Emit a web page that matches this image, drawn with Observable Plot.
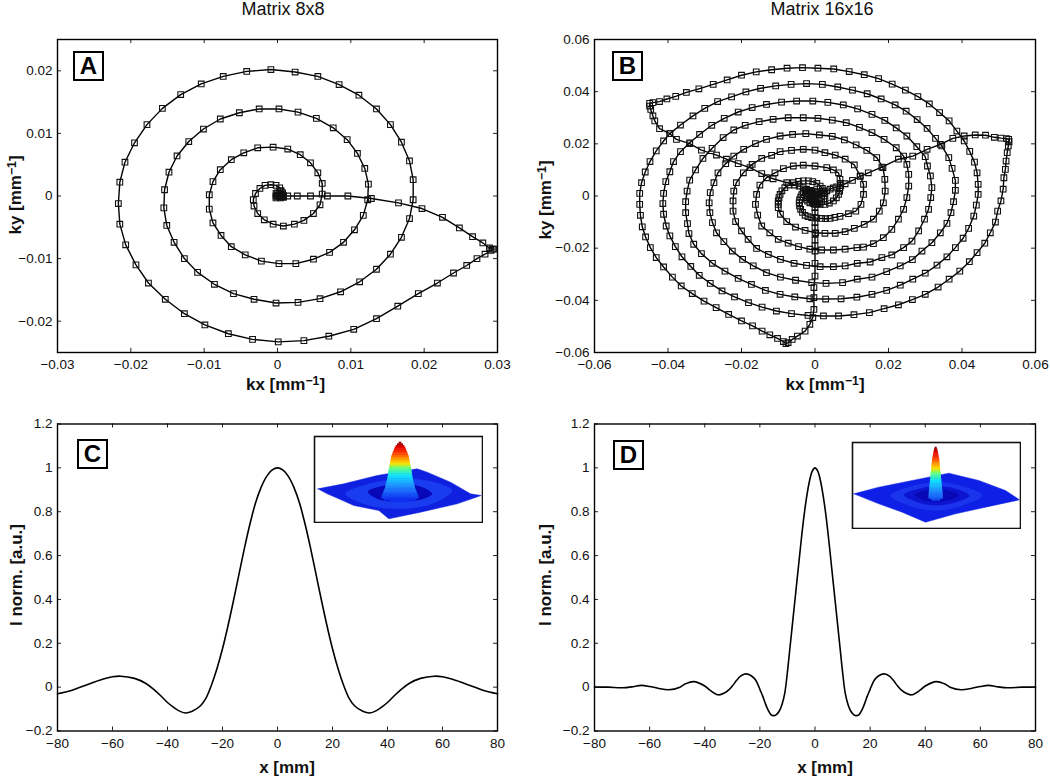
<!DOCTYPE html>
<html><head><meta charset="utf-8">
<script src="https://cdn.jsdelivr.net/npm/d3@7"></script>
<script src="https://cdn.jsdelivr.net/npm/@observablehq/plot@0.6"></script>
<style>
html,body{margin:0;padding:0;background:#fff;font-family:"Liberation Sans",Arial,sans-serif}
#page{position:relative;width:1050px;height:781px;overflow:hidden}
#page>*{position:absolute}
.title{font-size:18px;line-height:16px;color:#111;white-space:nowrap;transform:translateX(-50%)}
.tag{box-sizing:border-box;width:31px;height:30px;border:2px solid #000;background:#fff;font-weight:bold;font-size:24px;line-height:26px;text-align:center;color:#000}
.lab{font-weight:bold;font-size:17px;line-height:20px;color:#111;white-space:nowrap;transform:translate(-50%,-50%)}
.lab.v{transform:translate(-50%,-50%) rotate(-90deg)}
.lab sup{font-size:72%;line-height:0;vertical-align:baseline;position:relative;top:-.45em}
</style></head><body><div id="page"></div>
<script>
// k-space trajectories, units 1e-3 mm^-1, [kx, ky]
const spiralA=[[0,0],[.2,0],[.4,0],[.6,-.1],[.8,0],[.3,.2],[.6,.2],[-.2,0],[-.2,.4],[0,.5],[.4,.8],[.7,.5],[.8,-.2],[-.2,-.3],[.4,-.3],[.8,0],[1.4,0],[2.7,0],[4.5,0],[6.8,0],[9.6,0],[12.8,-.4],[16.5,-1.1],[19.7,-2],[22.5,-3.4],[24.8,-5.1],[26.6,-6.5],[28,-7.5],[28.9,-8.3],[29.3,-8.5],[29.5,-8.5],[29.1,-8.7],[28.3,-9.3],[27.2,-10],[25.8,-11.1],[24,-12.3],[21.8,-13.9],[19.2,-15.6],[16.4,-17.6],[13.5,-19.6],[10.4,-21.3],[7,-22.4],[3.6,-23.1],[.1,-23.3],[-3.4,-22.9],[-6.7,-22],[-9.9,-20.6],[-12.7,-18.8],[-15.3,-16.5],[-17.6,-13.9],[-19.3,-11],[-20.7,-7.8],[-21.5,-4.5],[-21.7,-1.2],[-21.5,2.2],[-20.8,5.4],[-19.5,8.5],[-17.8,11.4],[-15.7,14],[-13.2,16.2],[-10.4,17.9],[-7.4,19.1],[-4.2,19.9],[-.9,20.2],[2.4,19.8],[5.5,19.1],[8.4,17.8],[11.1,16.1],[13.5,13.9],[15.4,11.4],[16.9,8.6],[18,5.6],[18.5,2.6],[18.5,-.6],[18,-3.6],[16.9,-6.6],[15.4,-9.3],[13.5,-11.7],[11.2,-13.7],[8.6,-15.3],[5.8,-16.4],[2.8,-17],[-.2,-17.1],[-3.2,-16.5],[-6,-15.6],[-8.6,-14.1],[-10.9,-12.2],[-12.7,-10],[-14.1,-7.4],[-15.1,-4.7],[-15.5,-1.9],[-15.4,1],[-14.8,3.8],[-13.7,6.4],[-12.1,8.7],[-10.1,10.7],[-7.8,12.3],[-5.2,13.3],[-2.5,13.9],[.2,13.9],[2.8,13.4],[5.3,12.4],[7.6,10.9],[9.5,9],[10.9,6.8],[11.9,4.4],[12.4,1.9],[12.3,-.6],[11.7,-3.1],[10.5,-5.4],[9,-7.4],[7.1,-9],[4.9,-10.1],[2.5,-10.8],[.2,-10.8],[-2.2,-10.4],[-4.4,-9.4],[-6.3,-8.1],[-7.7,-6.3],[-8.8,-4.3],[-9.3,-2.1],[-9.3,.2],[-8.8,2.3],[-7.8,4.2],[-6.3,5.8],[-4.6,6.9],[-2.7,7.7],[-.6,7.8],[1.4,7.5],[3.1,6.6],[4.5,5.3],[5.5,3.7],[6.1,2],[6.1,.3],[5.8,-1.4],[4.9,-2.8],[3.6,-3.9],[2.3,-4.5],[.8,-4.8],[-.6,-4.5],[-1.8,-3.8],[-2.7,-2.8],[-3.2,-1.6],[-3.3,-.6],[-3,.4],[-2.4,1.2],[-1.7,1.7],[-.9,1.8],[-.2,1.7],[.3,1.3],[.5,.8],[.4,.4],[.2,.2],[0,0]];
const armBottom=[[0,0],[0,-1],[0,-2],[0,-3.2],[0,-4.5],[0,-6.4],[0,-8.3],[0,-10.2],[0,-12.1],[0,-14.5],[0,-16.9],[0,-19],[0,-21.1],[0,-25.8],[0,-30.7],[-.3,-35.1],[-.3,-39],[-.3,-43.5],[-.6,-46.6],[-1.4,-49.2],[-2.7,-51.8],[-4.8,-53.7],[-6.2,-55],[-7.3,-56.2],[-7.9,-56.6],[-8.6,-55.8],[-10.2,-54.6],[-12.3,-53.2],[-14.4,-51.8],[-17,-49.8],[-20,-47.9],[-23.5,-45.4],[-26.9,-42.8],[-30.2,-40.3],[-33.4,-37.4],[-36.4,-34.5],[-38.8,-31.1],[-41.2,-27.2],[-43.2,-23.6],[-44.8,-19.8],[-46.1,-15.7],[-47,-11.8],[-47.5,-7.4],[-47.7,-3.2],[-47.7,1],[-47.2,5.1],[-46.2,9.2],[-44.9,13.2],[-43.2,17.3],[-41.2,21.1],[-39.5,23.9],[-36.6,27.2],[-33.2,30.7],[-30,33.6],[-26.5,36.2],[-22.7,38],[-18.8,39.9],[-14.8,41.3],[-10.7,42.2],[-6.5,42.8],[-2.3,43.1],[2,42.8],[6.2,41.8],[10.2,40.6],[14.2,39.2],[18,37.2],[21.8,34.9],[24.8,32.5],[27.8,29.3],[30.5,25.9],[32.8,22.1],[34.5,19.2],[36.4,14.7],[37.3,10.6],[38.2,6],[38.2,2.2],[37.7,-2.2],[37,-6.4],[35.9,-10.5],[34.1,-14.1],[31.8,-17.9],[29.1,-21.1],[26.5,-24.4],[23.2,-26.8],[19.5,-29],[15.5,-31.1],[11.5,-31.9],[7.5,-33.2],[3,-33.5],[-.9,-33.2],[-5.3,-32.3],[-9.4,-31.1],[-13.2,-29.4],[-16.8,-26.8],[-19.7,-24.3],[-22.5,-21.1],[-24.8,-17.5],[-26.8,-14.1],[-27.9,-10.2],[-28.6,-6.4],[-28.8,-2.6],[-28.5,1.3],[-27.5,5.1],[-26.4,8.9],[-24.3,12.4],[-22.1,15.3],[-19.4,17.9],[-16.2,20.1],[-13.2,21.7],[-9.5,23],[-6.1,23.6],[-2.5,23.9],[1.2,23.4],[4.7,22.9],[8,21.5],[11.2,19.6],[14.1,17.5],[16.8,14.7],[18.5,10.9],[19,6.4],[19.1,1.9],[18.6,-2.6],[17.5,-5.8],[15.9,-8.9],[13.4,-10.9],[10.7,-12.4],[8.2,-13.7],[5.5,-14.3],[2.7,-14.3],[.2,-14.1],[-2.7,-13.2],[-5.3,-11.9],[-7.7,-9.8],[-9.4,-7],[-10,-4.5],[-10,-3.2],[-10,-1.9],[-9.8,-.6],[-9.5,.6],[-9,2],[-8.2,3.2],[-7.2,4.2],[-5.9,5.1],[-4.5,5.6],[-3.2,5.8],[-1.8,5.8],[-.6,5.5],[.5,4.8],[1.4,3.8],[2,2.9],[2.3,1.9],[2.6,1],[2.7,0],[2.4,-1.2],[1.8,-2.2],[1.2,-2.7],[.5,-2.9],[-.4,-2.9],[-1.4,-2.6],[-2,-2],[-2.3,-1.3],[-2.3,-.6],[-2.1,0],[-1.7,.5],[-1.2,.9],[-.7,.9],[-.3,.6],[0,.3],[0,0]];
const armLeft=[[0,0],[-.5,.6],[-1,1.2],[-1.4,1.9],[-2.3,2.6],[-3.2,3.2],[-4.3,3.8],[-5.5,4.2],[-7.7,5.1],[-11.4,6.6],[-14.5,8.6],[-17.7,10.9],[-20.9,12.4],[-24.1,14.1],[-26.8,15.7],[-30.9,17.6],[-34.1,20.1],[-37.7,21.7],[-39.5,23.9],[-42.3,25.8],[-43.6,28.8],[-44.1,30.7],[-44.7,33.2],[-45,34.5],[-45,35.5],[-44.1,35.8],[-42.3,36.2],[-40.3,37.2],[-37.9,38.2],[-35,39.7],[-31.6,41.1],[-27.7,42.8],[-23.9,44.5],[-20,46.3],[-16,47.6],[-11.8,48.4],[-7.6,49],[-3.4,49.2],[.8,49],[5.1,48.7],[9.3,47.7],[13.4,46.5],[17.3,45],[21,42.9],[24.6,40.6],[28,38.1],[31.1,35.3],[33.9,32],[36.5,28.8],[38.6,24.9],[40.6,21.1],[42.1,17.1],[43.4,13],[44.1,8.9],[44.4,4.5],[44.4,.6],[43.9,-3.5],[43.2,-7.7],[41.8,-12.4],[40.3,-16.2],[38.2,-19.8],[35.9,-23.3],[33.2,-26.5],[30,-29.6],[26.6,-31.9],[23.2,-34.2],[19.5,-36.2],[15.5,-37.7],[11.4,-38.8],[7.1,-39.4],[2.9,-39.5],[-1.4,-39.4],[-5.5,-38.7],[-9.5,-37.7],[-13.5,-36.2],[-17.3,-33.9],[-20.9,-31.6],[-24.5,-28.8],[-27.9,-25.8],[-30.9,-22.1],[-33,-18.5],[-34.3,-14.4],[-34.7,-10.6],[-35.2,-6.4],[-35.2,-2.2],[-34.8,1.9],[-34.1,6.1],[-32.5,10],[-30.5,14.4],[-28,18.3],[-25,22.4],[-22.1,25.3],[-19,27.1],[-15.2,28.5],[-11.4,29.4],[-7.3,30],[-3.2,30],[.8,29.8],[4.7,29.1],[8.5,28.1],[12.1,26.3],[15.5,24.3],[18.8,21.7],[22.1,18.5],[24.1,15.3],[25,12.1],[25.5,8.3],[25.5,3.8],[25,-.6],[24.1,-5.1],[22.7,-8.9],[20.9,-12.8],[18.6,-16],[15.9,-18.3],[13.2,-19.6],[11.4,-19.8],[8.2,-20.4],[5,-20.7],[1.8,-20.7],[-1.4,-20.4],[-4.5,-19.4],[-7.3,-18.1],[-10,-16.6],[-12.3,-14.1],[-14.5,-11.5],[-15.6,-7.3],[-16.2,-3.2],[-15.9,.6],[-15,4.2],[-13.2,7],[-10.9,8.9],[-8.6,10.5],[-5.9,11.5],[-3.2,11.8],[0,11.5],[3.2,10.9],[5,10],[6.4,8.9],[6.8,6.4],[6.9,4.8],[6.8,3.2],[6.7,1.9],[6.4,.6],[5.8,-.7],[5,-1.9],[3.9,-2.7],[2.7,-3.2],[1.4,-3.2],[.7,-3.1],[0,-2.9],[-.7,-2.2],[-1.2,-1.3],[-1.2,-.6],[-.9,0],[-.5,.2],[0,0]];
const armRight=[[0,0],[.6,.3],[1.2,.6],[1.7,1],[2.3,1.3],[3.2,2],[4.1,2.6],[5,3.1],[5.9,3.5],[7,4],[8.2,4.7],[10.2,6],[12.3,7.5],[14.5,8.9],[18.2,11.1],[22.7,14.1],[26.6,15.3],[30.5,17.9],[34.1,19.8],[37.5,22.1],[40.6,23],[43.6,23.4],[46.4,23.3],[48.8,22.5],[50.6,22.2],[52.1,22],[52.7,21.7],[52.8,20.8],[52.6,19.2],[52.3,16.6],[52,13.4],[51.8,10.2],[51.4,7],[51.2,2.6],[50.6,-1.9],[49.7,-5.8],[49.1,-10],[47.7,-14.1],[46.2,-18.1],[44.1,-21.7],[42,-25.2],[39.4,-28.8],[36.5,-31.9],[33.5,-34.9],[30,-37.7],[26.5,-39.7],[22.7,-41.7],[18.8,-43.2],[14.8,-44.7],[10.6,-45.5],[6.4,-46],[2.3,-46],[-1.9,-45.8],[-6.4,-45.1],[-10.5,-44.1],[-14.4,-42.6],[-18.1,-40.9],[-21.9,-38.7],[-25.3,-36.4],[-28.5,-33.5],[-31.5,-30.4],[-33.8,-27],[-36.2,-23.3],[-38,-19.4],[-39.5,-15.3],[-40.5,-11.5],[-41.2,-7],[-41.4,-2.9],[-41.2,1],[-40.6,5.5],[-39.5,9.3],[-38.5,13.2],[-36.6,17],[-34.1,20.4],[-31.4,23.6],[-28.1,27.1],[-24.7,29.8],[-20.9,32.2],[-17.1,33.9],[-13.2,35.1],[-9.1,36],[-5,36.4],[-.6,36.4],[3.5,35.9],[7.7,34.9],[11.6,33.4],[15.5,31.3],[19,29],[22.1,26.1],[25,23],[27.7,18.9],[30,15.1],[30.6,11.5],[31.4,7.7],[31.8,3.2],[31.5,-.6],[30.9,-5.1],[29.8,-8.9],[28.2,-13.4],[26.4,-17.3],[24.1,-19.8],[20.9,-22.6],[18.2,-23.6],[15,-25.3],[11.5,-25.8],[8.2,-26.8],[5,-27.1],[1.4,-27.1],[-2.3,-26.6],[-5.7,-25.8],[-9.4,-24.3],[-12.7,-22.4],[-15.9,-20.1],[-18.2,-16.6],[-20,-13.4],[-21.6,-9.8],[-22.3,-5.8],[-22.3,-1.9],[-22.1,1.9],[-21.4,5.1],[-19.5,8.9],[-17.1,12.1],[-14.5,14.4],[-11.8,15.6],[-9.5,17],[-6.4,17.5],[-3.2,17.9],[0,17.6],[2.7,16.6],[5.5,15.7],[8.2,14.1],[10.7,11.9],[12.3,7.7],[13.2,4.5],[13.2,.6],[12.5,-3.2],[11.1,-5.8],[9.1,-6.8],[6.8,-7.8],[5.4,-8.2],[4.1,-8.6],[2.9,-8.7],[1.8,-8.6],[.4,-8.5],[-.9,-8.3],[-1.9,-7.9],[-2.7,-7.4],[-3.4,-6.3],[-3.9,-5.1],[-4.2,-3.8],[-4.3,-2.6],[-4.2,-1.5],[-3.9,-.4],[-3.6,.5],[-3.2,1.3],[-2.6,1.9],[-1.8,2.2],[-1.1,2.2],[-.5,1.9],[0,1.6],[.5,1.3],[.5,.7],[.2,.2],[0,0]];
// point-spread profiles
const xC=[-80,-75,-70,-65,-60,-57,-52,-48,-45,-42,-40,-38,-36,-33.5,-31,-28,-26,-24,-22,-20,-18,-16,-14,-12,-10,-8,-6,-4,-2,0,2,4,6,8,10,12,14,16,18,20,22,24,26,28,31,33.5,36,38,40,42,45,48,52,57,60,65,70,75,80];
const iC=[-.03,-.015,.008,.03,.047,.05,.04,.018,-.01,-.045,-.07,-.09,-.107,-.118,-.11,-.085,-.05,.01,.085,.175,.28,.395,.515,.635,.745,.84,.91,.96,.99,1,.99,.96,.91,.84,.745,.635,.515,.395,.28,.175,.085,.01,-.05,-.085,-.11,-.118,-.107,-.09,-.07,-.045,-.01,.018,.04,.05,.047,.03,.008,-.015,-.03];
const xD=[-80,-75,-70,-66,-63,-60,-57,-53,-49,-47,-44,-40,-38,-35,-32,-30,-28.5,-27,-25.5,-24,-22,-21,-20,-19,-18,-17,-16,-15,-14,-13,-12,-11,-10,-9,-8,-7,-6,-5,-4,-3,-2,-1,0,1,2,3,4,5,6,7,8,9,10,11,12,13,14,15,16,17,18,19,20,21,22,24,25.5,27,28.5,30,32,35,38,40,44,47,49,53,57,60,63,66,70,75,80];
const iD=[0,0,-.003,.002,.008,.003,-.005,-.012,0,.015,.025,.005,-.015,-.035,-.02,.005,.03,.05,.06,.058,.04,.02,-.01,-.04,-.075,-.105,-.125,-.13,-.125,-.11,-.08,-.03,.07,.19,.31,.43,.55,.67,.78,.87,.94,.985,1,.985,.94,.87,.78,.67,.55,.43,.31,.19,.07,-.03,-.08,-.11,-.125,-.13,-.125,-.105,-.075,-.04,-.01,.02,.04,.058,.06,.05,.03,.005,-.02,-.035,-.015,.005,.025,.015,0,-.012,-.005,.003,.008,.002,-.003,0,0];
// inset surfaces, in projected view units (three to a pixel)
const peakLevelsC=[35,40,45,50,55,60,65,70,75,80,85,90,95,100,105,110,115,120,125,130,135,140,145,150,155,160,165,170,175,180,185,190,195,200,205,210];
const peakHalfC=[4,9,13,16,18,20,22,24,26,27,28,29,30,31,32,33,34,35,36,36,37,38,39,40,41,43,44,45,47,49,51,53,55,55,48,30];
const peakLevelsD=[35,40,45,50,55,60,65,70,75,80,85,90,95,100,105,110,115,120,125,130,135,140,145,150,155,160,165,170,175,180,185,190];
const peakHalfD=[3,5,6,7,8,9,10,11,11,12,12,13,13,14,14,15,15,16,16,17,17,18,18,19,19,20,20,21,21,22,21,13];
const surfaceC={base:[[22,175],[100,160],[200,135],[320,115],[350,125],[420,155],[480,190],[512,195],[440,220],[330,245],[235,265],[205,240],[130,225],[85,205],[50,190]],
 rings:[[[105,190],[175,160],[270,145],[350,150],[425,180],[370,218],[270,235],[165,222]],[[172,183],[210,168],[270,160],[330,168],[365,190],[340,205],[270,213],[205,207]]]};
const surfaceD={base:[[25,175],[100,155],[200,135],[310,113],[400,135],[480,165],[522,193],[420,215],[330,235],[240,260],[170,230],[100,205]],
 rings:[[[135,180],[205,150],[272,140],[345,150],[410,180],[345,212],[272,225],[195,212]],[[175,178],[225,158],[272,152],[325,158],[372,180],[325,202],[272,210],[220,202]],[[207,178],[240,165],[272,162],[310,165],[340,180],[310,194],[272,198],[235,194]]]};
const ringColorsC=["#1a3cf0","#0808b8"], ringColorsD=["#1a34ee","#0c14d0","#0808b4"];
const jetStops=[[35,"#800000"],[48,"#e60000"],[68,"#ff4000"],[82,"#ff9000"],[98,"#ffe000"],[112,"#60ff80"],[135,"#10e0ff"],[165,"#2090ff"],[205,"#1030f0"]];
const ticksKA=[-.03,-.02,-.01,0,.01,.02,.03], ticksKyA=[-.02,-.01,0,.01,.02];
const ticksKB=[-.06,-.04,-.02,0,.02,.04,.06];
const ticksX=[-80,-60,-40,-20,0,20,40,60,80], ticksI=[-.2,0,.2,.4,.6,.8,1,1.2];

const page=document.getElementById("page");
const fmt=d=>String(d).replace("-","\u2212");
function panel({left,top,w,h,ml,mr,mt,mb,xd,yd,tx,ty,marks}){
  const dx=(xd[1]-xd[0])*.009, dy=(yd[1]-yd[0])*.013;
  const tickStyle={stroke:"#222",strokeWidth:1};
  const p=Plot.plot({width:w,height:h,marginLeft:ml,marginRight:mr,marginTop:mt,marginBottom:mb,
    style:{background:"transparent",fontFamily:"'Liberation Sans',Arial,sans-serif"},
    x:{domain:xd},y:{domain:yd},
    marks:[
      ...marks,
      Plot.axisX(tx,{anchor:"bottom",tickSize:0,tickPadding:7,tickFormat:fmt,fontSize:13.5,fill:"#111",label:null}),
      Plot.axisY(ty,{anchor:"left",tickSize:0,tickPadding:5,tickFormat:fmt,fontSize:13.5,fill:"#111",label:null}),
      Plot.ruleX(tx,{x:d=>d,y1:yd[0],y2:yd[0]+dy,...tickStyle}),
      Plot.ruleX(tx,{x:d=>d,y1:yd[1]-dy,y2:yd[1],...tickStyle}),
      Plot.ruleY(ty,{y:d=>d,x1:xd[0],x2:xd[0]+dx,...tickStyle}),
      Plot.ruleY(ty,{y:d=>d,x1:xd[1]-dx,x2:xd[1],...tickStyle}),
      Plot.frame({stroke:"#000",strokeWidth:1.4})
    ]});
  p.style.left=left+"px";p.style.top=top+"px";page.append(p);
}
const spiralMarks=arms=>arms.flatMap(a=>[
  Plot.line(a,{x:d=>d[0]/1000,y:d=>d[1]/1000,stroke:"#000",strokeWidth:1.4}),
  Plot.dot(a,{x:d=>d[0]/1000,y:d=>d[1]/1000,symbol:"square",r:3.2,stroke:"#111",strokeWidth:1.1,fill:"none"})
]);
const curveMarks=(xs,ys)=>[Plot.line(xs.map((x,i)=>[x,ys[i]]),{x:d=>d[0],y:d=>d[1],curve:"catmull-rom",stroke:"#000",strokeWidth:1.6})];

panel({left:0,top:0,w:525,h:390,ml:57,mr:28,mt:39,mb:38,xd:[-.03,.03],yd:[-.025,.025],tx:ticksKA,ty:ticksKyA,marks:spiralMarks([spiralA])});
panel({left:525,top:0,w:525,h:390,ml:69,mr:15,mt:39,mb:38,xd:[-.06,.06],yd:[-.06,.06],tx:ticksKB,ty:ticksKB,marks:spiralMarks([armBottom,armLeft,armRight])});
panel({left:0,top:390,w:525,h:391,ml:57,mr:28,mt:33.5,mb:50.5,xd:[-80,80],yd:[-.2,1.2],tx:ticksX,ty:ticksI,marks:curveMarks(xC,iC)});
panel({left:525,top:390,w:525,h:391,ml:69,mr:15,mt:33.5,mb:50.5,xd:[-80,80],yd:[-.2,1.2],tx:ticksX,ty:ticksI,marks:curveMarks(xD,iD)});

function inset({left,top,ox,oy,surface,colors,cx,levels,half,baseColor}){
  const w=168,h=86;
  const jet={type:"linear",domain:jetStops.map(d=>d[0]),range:jetStops.map(d=>d[1]),interpolate:"rgb",clamp:true};
  const band=levels.map((y,i)=>({y,w:half[i]}));
  const p=Plot.plot({width:w+2,height:h+2,margin:1,style:{background:"#fff"},
    x:{domain:[ox,ox+w*3],axis:null},y:{domain:[oy+h*3,oy],axis:null},color:jet,
    marks:[
      Plot.line([...surface.base,surface.base[0]],{x:d=>d[0],y:d=>d[1],fill:baseColor,stroke:baseColor,strokeWidth:.5}),
      ...surface.rings.map((r,i)=>Plot.line(r,{x:d=>d[0],y:d=>d[1],curve:"catmull-rom-closed",fill:colors[i],stroke:"none"})),
      Plot.rect(band,{x1:d=>cx-d.w,x2:d=>cx+d.w,y1:d=>d.y,y2:d=>d.y+6.5,fill:d=>d.y}),
      Plot.frame({stroke:"#111",strokeWidth:1.6})
    ]});
  p.style.left=(left-1)+"px";p.style.top=(top-1)+"px";page.append(p);
}
inset({left:314,top:436,ox:12,oy:18,surface:surfaceC,colors:ringColorsC,cx:270,levels:peakLevelsC,half:peakHalfC,baseColor:"#0f20e0"});
inset({left:852,top:442,ox:21,oy:21,surface:surfaceD,colors:ringColorsD,cx:272,levels:peakLevelsD,half:peakHalfD,baseColor:"#0f20e6"});

const place=(cls,html,l,t)=>{const d=document.createElement("div");d.className=cls;d.innerHTML=html;d.style.left=l+"px";d.style.top=t+"px";page.append(d);};
for(const [t,l] of [["Matrix 8x8",283],["Matrix 16x16",822]]) place("title",t,l,1);
for(const [t,l,tp] of [["A",73,51],["B",612,51],["C",77,439],["D",613,440]]) place("tag",t,l,tp);
const kxLabel="kx [mm<sup>\u22121</sup>]", kyLabel="ky [mm<sup>\u22121</sup>]";
place("lab",kxLabel,285.5,385); place("lab",kxLabel,825,385);
place("lab","x [mm]",287,768); place("lab","x [mm]",825,768);
place("lab v",kyLabel,15.5,195); place("lab v",kyLabel,545.5,199.5);
place("lab v","I norm. [a.u.]",16.5,574.5); place("lab v","I norm. [a.u.]",546,574.5);
</script></body></html>
